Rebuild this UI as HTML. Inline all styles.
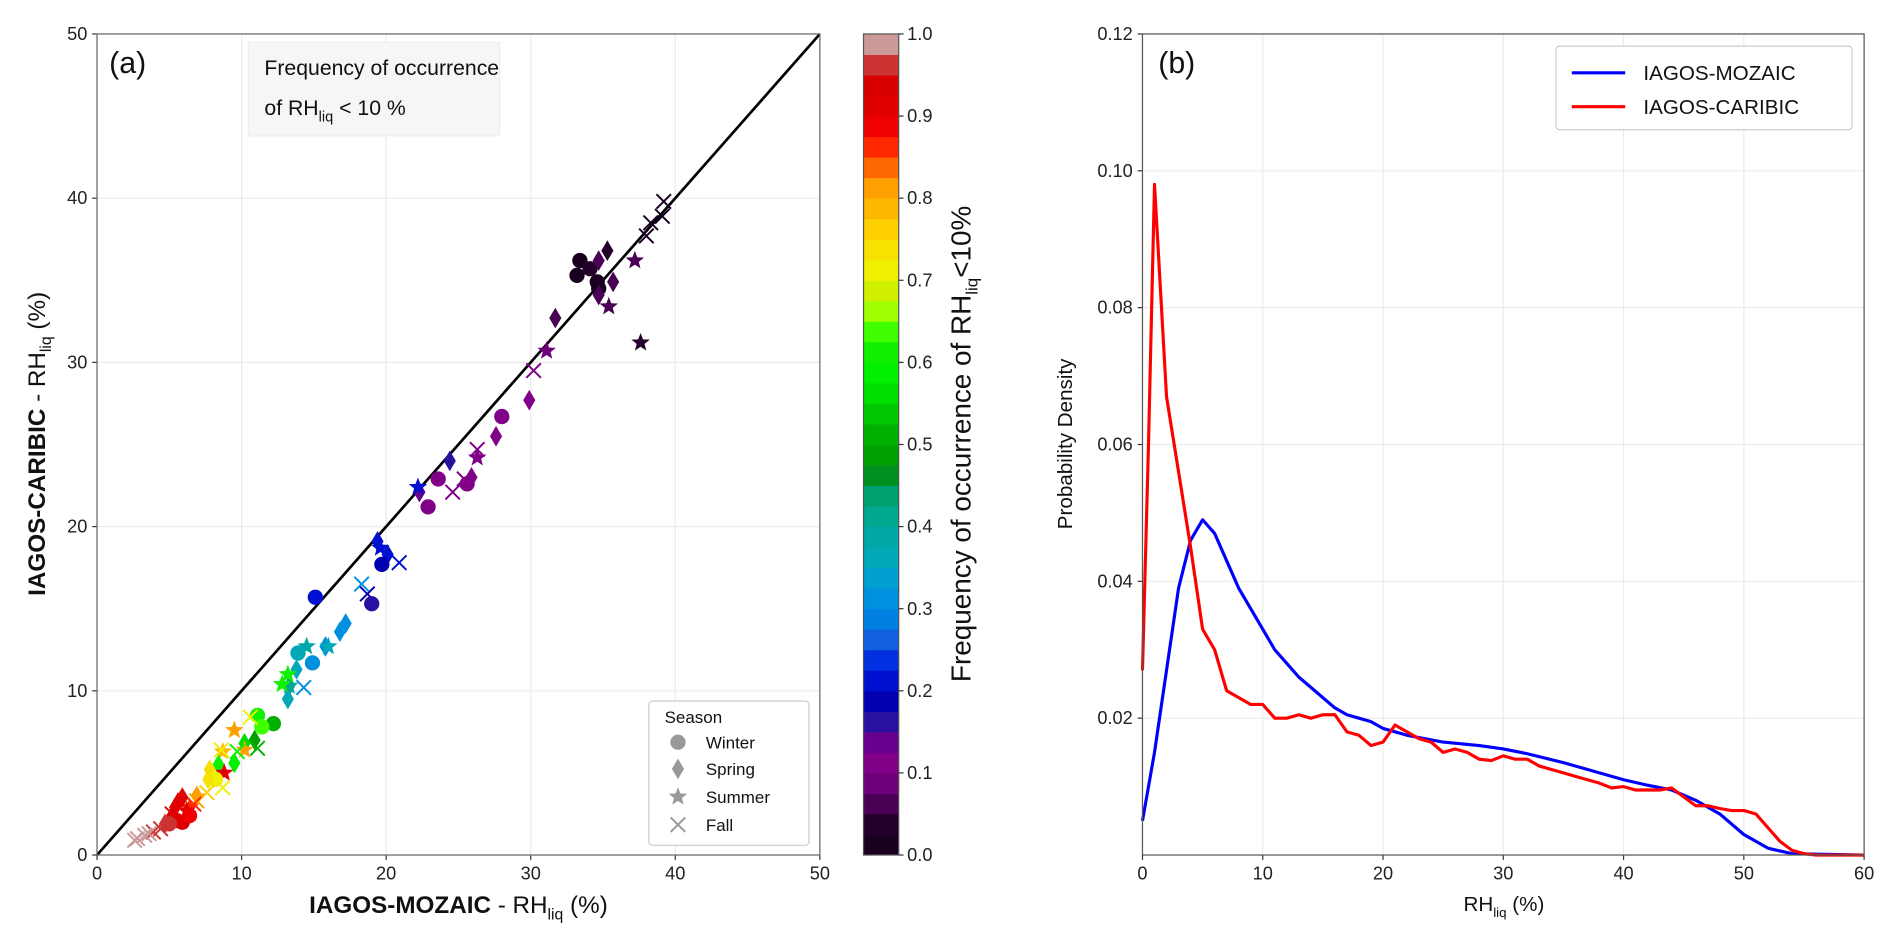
<!DOCTYPE html>
<html><head><meta charset="utf-8"><style>
html,body{margin:0;padding:0;background:#fff;}
svg{display:block;font-family:"Liberation Sans","DejaVu Sans",sans-serif;}
</style></head><body>
<svg id="fig" width="1892" height="937" viewBox="0 0 1560 772.6" preserveAspectRatio="none" xmlns="http://www.w3.org/2000/svg"></svg>
<script>
// ---- Panel (a) data ----
const scatterX = [33.4,33.2,34.1,34.6,34.7,34.7,34.7,35.3,35.7,35.4,37.2,37.6,38.0,38.3,39.2,39.1,
 31.7,31.1,30.2,29.9,28.0,27.6,26.3,26.3,23.6,22.9,22.3,22.2,24.6,24.4,25.6,25.4,25.9,
 19.4,19.6,20.1,19.7,20.9,18.7,19.0,15.1,18.3,
 16.8,17.2,15.8,16.0,14.5,13.9,13.8,14.9,14.3,13.3,13.3,13.2,12.8,13.2,
 11.1,12.2,11.4,10.6,9.5,10.2,10.9,11.1,10.2,9.7,8.7,8.6,9.5,8.4,8.8,7.8,8.2,8.7,7.7,7.6,6.9,6.9,6.4,6.7,
 5.9,5.6,5.4,5.9,5.5,5.2,5.2,5.0,4.7,4.4,3.9,3.6,3.3,2.8,2.6,6.2,6.4];
const scatterY = [36.2,35.3,35.7,34.9,34.5,34.1,36.2,36.8,34.9,33.4,36.2,31.2,37.7,38.5,39.8,38.9,
 32.7,30.7,29.5,27.7,26.7,25.5,24.7,24.2,22.9,21.2,22.1,22.4,22.1,24.0,22.6,22.9,23.0,
 19.1,18.7,18.3,17.7,17.8,15.9,15.3,15.7,16.5,
 13.6,14.1,12.7,12.7,12.7,12.3,11.3,11.7,10.2,10.3,10.3,9.5,10.4,11.0,
 8.5,8.0,7.8,8.4,7.6,6.8,7.0,6.5,6.4,6.3,6.3,6.4,5.6,5.5,5.0,5.2,4.6,4.1,4.6,3.8,3.3,3.6,2.9,3.1,
 3.5,3.2,2.9,2.0,2.1,2.4,2.5,1.9,1.9,1.6,1.4,1.3,1.2,1.0,0.9,2.7,2.4];
const scatterSeason = ["W","W","W","W","W","Sp","Sp","Sp","Sp","Su","Su","Su","F","F","F","F",
 "Sp","Su","F","Sp","W","Sp","F","Su","W","W","Sp","Su","F","Sp","W","F","Sp",
 "Sp","Su","Sp","W","F","F","W","W","F",
 "Sp","Sp","Sp","Su","Su","W","Sp","W","F","Su","Sp","Sp","Su","Su",
 "W","W","W","F","Su","Sp","Sp","F","Su","F","Su","F","Sp","Sp","Su","Sp","W","F","Sp","F","F","Sp","Su","F",
 "Sp","Sp","Sp","W","W","Sp","F","W","Sp","F","F","F","F","F","F","Su","W"];
const scatterFreq = [0.02,0.02,0.03,0.02,0.02,0.05,0.05,0.04,0.05,0.06,0.05,0.03,0.0,0.01,0.01,0.01,
 0.07,0.09,0.1,0.11,0.1,0.1,0.1,0.1,0.1,0.1,0.13,0.2,0.1,0.17,0.11,0.11,0.1,
 0.2,0.2,0.22,0.18,0.22,0.18,0.17,0.22,0.3,
 0.3,0.3,0.3,0.35,0.38,0.37,0.37,0.32,0.3,0.38,0.4,0.37,0.6,0.62,
 0.62,0.5,0.63,0.7,0.8,0.55,0.48,0.5,0.8,0.6,0.78,0.72,0.58,0.62,0.9,0.73,0.72,0.7,0.73,0.77,0.82,0.82,0.85,0.85,
 0.92,0.92,0.92,0.93,0.92,0.93,0.9,0.95,0.96,0.96,0.97,0.98,0.98,0.99,0.99,0.9,0.88];
const axisTicksA = [0,10,20,30,40,50];
const cbarTicks = [0.0,0.1,0.2,0.3,0.4,0.5,0.6,0.7,0.8,0.9,1.0];
// ---- Panel (b) data ----
const mozaicX = [0,1,2,3,4,5,6,7,8,9,10,11,12,13,14,15,16,17,18,19,20,22,25,28,30,32,35,38,40,42,44,46,48,50,52,54,60];
const mozaicY = [0.005,0.015,0.027,0.039,0.046,0.049,0.047,0.043,0.039,0.036,0.033,0.030,0.028,0.026,0.0245,0.023,0.0215,0.0205,0.020,0.0195,0.0185,0.0175,0.0165,0.016,0.0155,0.0148,0.0135,0.012,0.011,0.0102,0.0095,0.008,0.006,0.003,0.001,0.0002,0];
const caribicX = [0,0.5,1,2,3,4,5,6,7,8,9,10,11,12,13,14,15,16,17,18,19,20,21,22,23,24,25,26,27,28,29,30,31,32,33,34,35,36,37,38,39,40,41,42,43,44,45,46,47,48,49,50,51,52,53,54,55,56,60];
const caribicY = [0.027,0.06,0.098,0.067,0.056,0.045,0.033,0.030,0.024,0.023,0.022,0.022,0.020,0.020,0.0205,0.020,0.0205,0.0205,0.018,0.0175,0.016,0.0165,0.019,0.018,0.017,0.0165,0.015,0.0155,0.015,0.014,0.0138,0.0145,0.014,0.014,0.013,0.0125,0.012,0.0115,0.011,0.0105,0.0098,0.010,0.0095,0.0095,0.0095,0.0098,0.0085,0.0072,0.0072,0.0068,0.0065,0.0065,0.006,0.004,0.002,0.0007,0.0002,0,0];
const xTicksB = [0,10,20,30,40,50,60];
const yTicksB = [0.02,0.04,0.06,0.08,0.10,0.12];

const NS="http://www.w3.org/2000/svg";
const svg=document.getElementById('fig');
function mk(tag,attrs,parent){const e=document.createElementNS(NS,tag);for(const k in attrs)e.setAttribute(k,attrs[k]);(parent||svg).appendChild(e);return e;}
function txt(s,attrs,parent){const e=mk('text',attrs,parent);e.textContent=s;return e;}

const cmap=["#1a0020","#22002a","#4a0055","#70007a","#800088","#6a0090","#2a10a0","#0000b0","#0010d0","#0030e0","#1060e0","#0080e0","#0090e0","#00a0d0","#00a8b8","#00a8a8","#00a890","#00a070","#009020","#00a000","#00b000","#00c800","#00e000","#00f000","#10f000","#40ff00","#a0ff00","#d0f000","#f0f000","#f8e000","#ffd000","#ffb800","#ffa000","#ff6800","#ff2800","#f00000","#e00000","#d80000","#cc3333","#cc9999"];
function col(v){return cmap[Math.max(0,Math.min(39,Math.floor(v*40)))];}

const A={x0:80,x1:676,y0:705,y1:28};
const ax=v=>A.x0+(v/50)*(A.x1-A.x0);
const ay=v=>A.y0-(v/50)*(A.y0-A.y1);
const gA=mk('g',{});


axisTicksA.forEach(t=>{
  const gl=mk('line',{x1:ax(t),x2:ax(t),y1:A.y1,y2:A.y0,stroke:'#ececec','stroke-width':1},gA);
  
  const gl2=mk('line',{x1:A.x0,x2:A.x1,y1:ay(t),y2:ay(t),stroke:'#ececec','stroke-width':1},gA);
  
  mk('line',{x1:ax(t),x2:ax(t),y1:A.y0,y2:A.y0+4,stroke:'#333'},gA);
  mk('line',{x1:A.x0-4,x2:A.x0,y1:ay(t),y2:ay(t),stroke:'#333'},gA);
  const xl=txt(String(t),{x:ax(t),y:A.y0+20,'text-anchor':'middle','font-size':15,fill:'#222'},gA);
  
  const yl=txt(String(t),{x:A.x0-8,y:ay(t)+5,'text-anchor':'end','font-size':15,fill:'#222'},gA);
  
});
const one=mk('line',{x1:ax(0),y1:ay(0),x2:ax(50),y2:ay(50),stroke:'#000','stroke-width':2.2},gA);

function marker(s,cx,cy,c,parent){
  let e;
  if(s==='W'){e=mk('circle',{cx:cx,cy:cy,r:6.3,fill:c},parent);}
  else if(s==='Sp'){e=mk('path',{d:`M${cx},${cy-8.5}L${cx+5},${cy}L${cx},${cy+8.5}L${cx-5},${cy}Z`,fill:c},parent);}
  else if(s==='Su'){let p='';for(let i=0;i<10;i++){const r=i%2?3.4:8;const a=-Math.PI/2+i*Math.PI/5;p+=(i?'L':'M')+(cx+r*Math.cos(a)).toFixed(2)+','+(cy+r*Math.sin(a)).toFixed(2);}e=mk('path',{d:p+'Z',fill:c},parent);}
  else {e=mk('path',{d:`M${cx-6},${cy-6}L${cx+6},${cy+6}M${cx-6},${cy+6}L${cx+6},${cy-6}`,stroke:c,'stroke-width':1.6,fill:'none'},parent);}
  return e;
}
const gPts=mk('g',{},gA);

for(let i=0;i<scatterX.length;i++){
  const m=marker(scatterSeason[i],ax(scatterX[i]),ay(scatterY[i]),col(scatterFreq[i]),gPts);
  
  
}
const frA=mk('rect',{x:A.x0,y:A.y1,width:A.x1-A.x0,height:A.y0-A.y1,fill:'none',stroke:'#666','stroke-width':1},gA);

</script>
<script>
(function(){
const pl=txt('(a)',{x:90,y:60,'font-size':25,fill:'#111'});

const bx=mk('rect',{x:205,y:35,width:207,height:77,fill:'#f6f6f6',stroke:'#eee'});

const t1=txt('Frequency of occurrence',{x:218,y:62,'font-size':17.5,fill:'#111'});

const t2=mk('text',{x:218,y:95,'font-size':17.5,fill:'#111'});
t2.innerHTML='of RH<tspan font-size="12" dy="5">liq</tspan><tspan dy="-5"> &lt; 10 %</tspan>';

const yt=mk('text',{x:0,y:0,'font-size':20,fill:'#111','text-anchor':'middle',transform:'translate(37,366) rotate(-90)'});
yt.innerHTML='<tspan font-weight="bold">IAGOS-CARIBIC</tspan> - RH<tspan font-size="13" dy="5">liq</tspan><tspan dy="-5"> (%)</tspan>';

const xt=mk('text',{x:378,y:753,'font-size':20,fill:'#111','text-anchor':'middle'});
xt.innerHTML='<tspan font-weight="bold">IAGOS-MOZAIC</tspan> - RH<tspan font-size="13" dy="5">liq</tspan><tspan dy="-5"> (%)</tspan>';

const lg=mk('g',{});

mk('rect',{x:535,y:578,width:132,height:119,fill:'#fff',stroke:'#ccc',rx:3},lg);
txt('Season',{x:548,y:596,'font-size':14,fill:'#111'},lg);
[['W','Winter',616],['Sp','Spring',638],['Su','Summer',661],['F','Fall',684]].forEach(r=>{
  const m=marker(r[0],559,r[2]-4,'#999',lg);
  
  const l=txt(r[1],{x:582,y:r[2]+1,'font-size':14,fill:'#111'},lg);
  
});
const cb=mk('g',{});

const cy0=705,cy1=28,cx=712,cw=29;
for(let i=0;i<40;i++){
  const yA=cy0-(i+1)/40*(cy0-cy1);
  mk('rect',{x:cx,y:yA,width:cw,height:(cy0-cy1)/40+0.4,fill:cmap[i]},cb);
}
mk('rect',{x:cx,y:cy1,width:cw,height:cy0-cy1,fill:'none',stroke:'#555'},cb);
cbarTicks.forEach(t=>{
  const y=cy0-t*(cy0-cy1);
  mk('line',{x1:cx+cw,x2:cx+cw+4,y1:y,y2:y,stroke:'#333'},cb);
  const l=txt(t.toFixed(1),{x:cx+cw+7,y:y+5,'font-size':15,fill:'#222'},cb);
  
});
const ct=mk('text',{x:0,y:0,'font-size':23,fill:'#111','text-anchor':'middle',transform:'translate(800,366) rotate(-90)'});
ct.innerHTML='Frequency of occurrence of RH<tspan font-size="14" dy="6">liq</tspan><tspan dy="-6">&lt;10%</tspan>';

})();

(function(){
const B={x0:942,x1:1537,y0:705,y1:28};
const bx=v=>B.x0+(v/60)*(B.x1-B.x0);
const by=v=>B.y0-(v/0.12)*(B.y0-B.y1);
const g=mk('g',{});

xTicksB.forEach(t=>{
  mk('line',{x1:bx(t),x2:bx(t),y1:B.y1,y2:B.y0,stroke:'#ececec'},g);
  mk('line',{x1:bx(t),x2:bx(t),y1:B.y0,y2:B.y0+4,stroke:'#333'},g);
  const l=txt(String(t),{x:bx(t),y:B.y0+20,'text-anchor':'middle','font-size':15,fill:'#222'},g);
  
});
yTicksB.forEach(t=>{
  mk('line',{x1:B.x0,x2:B.x1,y1:by(t),y2:by(t),stroke:'#ececec'},g);
  mk('line',{x1:B.x0-4,x2:B.x0,y1:by(t),y2:by(t),stroke:'#333'},g);
  const l=txt(t.toFixed(2),{x:B.x0-8,y:by(t)+5,'text-anchor':'end','font-size':15,fill:'#222'},g);
  
});
function path(xs,ys){return xs.map((x,i)=>(i?'L':'M')+bx(x).toFixed(2)+','+by(ys[i]).toFixed(2)).join('');}
const lb=mk('path',{d:path(mozaicX,mozaicY),fill:'none',stroke:'#0000ff','stroke-width':2.6,'stroke-linejoin':'round'},g);

const lr=mk('path',{d:path(caribicX,caribicY),fill:'none',stroke:'#ff0000','stroke-width':2.6,'stroke-linejoin':'round'},g);

const fr=mk('rect',{x:B.x0,y:B.y1,width:B.x1-B.x0,height:B.y0-B.y1,fill:'none',stroke:'#555'},g);

const pl=txt('(b)',{x:955,y:60,'font-size':25,fill:'#111'});

const yt=txt('Probability Density',{x:0,y:0,'font-size':17,fill:'#111','text-anchor':'middle',transform:'translate(884,366) rotate(-90)'});

const xt=mk('text',{x:1240,y:751,'font-size':17,fill:'#111','text-anchor':'middle'});
xt.innerHTML='RH<tspan font-size="11" dy="5">liq</tspan><tspan dy="-5"> (%)</tspan>';

const lg=mk('g',{});

mk('rect',{x:1283,y:38,width:244,height:69,fill:'#fff',stroke:'#ccc',rx:3},lg);
mk('line',{x1:1296,x2:1340,y1:60,y2:60,stroke:'#0000ff','stroke-width':2.6},lg);
mk('line',{x1:1296,x2:1340,y1:88,y2:88,stroke:'#ff0000','stroke-width':2.6},lg);
const e1=txt('IAGOS-MOZAIC',{x:1355,y:66,'font-size':17,fill:'#111'},lg);

const e2=txt('IAGOS-CARIBIC',{x:1355,y:94,'font-size':17,fill:'#111'},lg);

})();
</script>
</body></html>
